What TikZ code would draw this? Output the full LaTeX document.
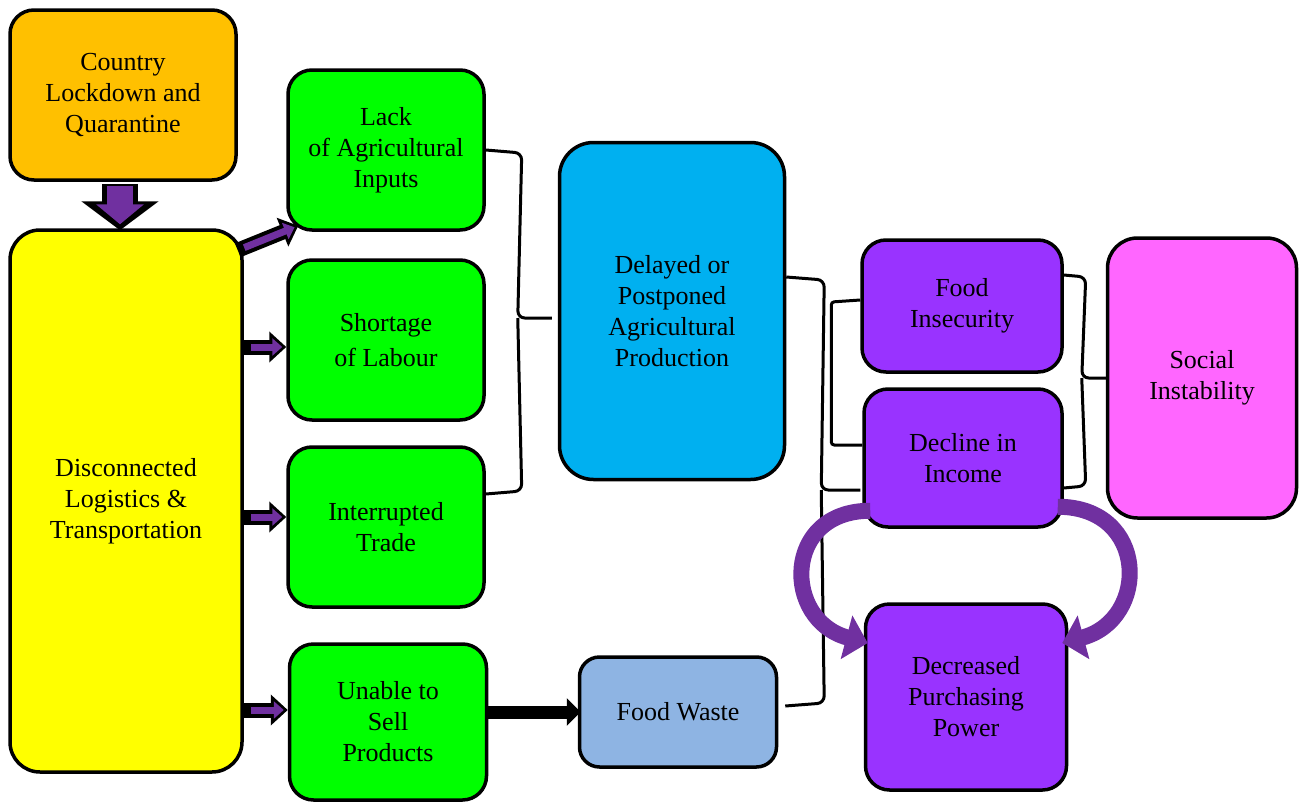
\documentclass[tikz,border=0pt]{standalone}
\usepackage{fontspec}
\setmainfont{Liberation Serif}
\usetikzlibrary{arrows.meta,calc}
\definecolor{lockorange}{HTML}{FFC000}
\definecolor{logyellow}{HTML}{FFFF00}
\definecolor{effgreen}{HTML}{00FF00}
\definecolor{prodblue}{HTML}{00B0F0}
\definecolor{wasteblue}{HTML}{8EB4E3}
\definecolor{incpurple}{HTML}{9933FF}
\definecolor{socpink}{HTML}{FF66FF}
\definecolor{arrpurple}{HTML}{7030A0}
\begin{document}
\begin{tikzpicture}[x=1pt,y=-1pt,
	box/.style={draw=black,line width=3.5pt,rounded corners=24pt,align=center,inner sep=0pt,font=\fontsize{26}{31}\selectfont},
	brc/.style={draw=black,line width=3pt,rounded corners=7pt},
	smallout/.style={draw=black,line width=15pt,-{Triangle[length=17pt,width=30pt]}},
	smallin/.style={draw=arrpurple,line width=7pt,-{Triangle[length=10pt,width=17pt]},shorten >=4pt,shorten <=7pt},
	curv/.style={draw=arrpurple,line width=16pt,-{Triangle[length=22pt,width=44pt]}}]
	\useasboundingbox (0,0) rectangle (1299,803);
	\node[box,fill=lockorange,minimum width=226pt,minimum height=170pt] (lock) at (123,95) {Country\\Lockdown and\\Quarantine};
	\node[box,fill=logyellow,minimum width=232pt,minimum height=542pt,rounded corners=30pt] (disc) at (126,501) {Disconnected\\Logistics \&\\Transportation};
	\node[box,fill=effgreen,minimum width=196pt,minimum height=160pt] (lack) at (386,150) {Lack\\of Agricultural\\Inputs};
	\node[box,fill=effgreen,minimum width=196pt,minimum height=160pt] (short) at (386,340) {Shortage\\[4pt]of Labour};
	\node[box,fill=effgreen,minimum width=196pt,minimum height=160pt] (trade) at (386,527) {Interrupted\\Trade};
	\node[box,fill=effgreen,minimum width=197pt,minimum height=156pt] (sell) at (388,722) {Unable to\\Sell\\Products};
	\node[box,fill=prodblue,minimum width=225pt,minimum height=337pt,rounded corners=34pt] (delay) at (672,311) {Delayed or\\Postponed\\Agricultural\\Production};
	\node[box,fill=wasteblue,minimum width=197pt,minimum height=110pt,rounded corners=20pt] (waste) at (678,712) {Food Waste};
	\node[box,fill=incpurple,minimum width=200pt,minimum height=132pt] (insec) at (962,306) {Food\\Insecurity};
	\node[box,fill=incpurple,minimum width=198pt,minimum height=138pt] (income) at (963,458) {Decline in\\Income};
	\node[box,fill=incpurple,minimum width=201pt,minimum height=186pt] (power) at (966,697) {Decreased\\Purchasing\\Power};
	\node[box,fill=socpink,minimum width=189pt,minimum height=280pt,rounded corners=30pt] (social) at (1202,378) {Social\\Instability};
	\draw[draw=black,line width=36pt,-{Triangle[length=29pt,width=76pt]}] ($(lock.south)+(-3,2)$) -- ($(disc.north)+(-6,2)$);
	\draw[draw=arrpurple,line width=26pt,-{Triangle[length=20pt,width=47pt]},shorten >=6pt] ($(lock.south)+(-3,4)$) -- ($(disc.north)+(-6,2)$);
	\draw[smallout] ($(disc.north east)+(-6,22)$) -- ($(lack.south west)+(12,-6)$);
	\draw[smallin] ($(disc.north east)+(-6,22)$) -- ($(lack.south west)+(12,-6)$);
	\draw[smallout] ($(disc.east|-short.west)+(0,7)$) -- ($(short.west)+(0,7)$);
	\draw[smallin] ($(disc.east|-short.west)+(0,7)$) -- ($(short.west)+(0,7)$);
	\draw[smallout] ($(disc.east|-trade.west)+(0,-10)$) -- ($(trade.west)+(0,-10)$);
	\draw[smallin] ($(disc.east|-trade.west)+(0,-10)$) -- ($(trade.west)+(0,-10)$);
	\draw[smallout] ($(disc.east|-sell.west)+(0,-12)$) -- ($(sell.west)+(0,-12)$);
	\draw[smallin] ($(disc.east|-sell.west)+(0,-12)$) -- ($(sell.west)+(0,-12)$);
	\draw[draw=black,line width=13pt,-{Triangle[length=14pt,width=27pt]}] ($(sell.east)+(0,-10)$) -- ($(waste.west|-sell.east)+(3,-10)$);
	\draw[brc] (lack.east) -- ++(36,3) -- ($(delay.west)+(-40,7)$) -- ($(delay.west)+(-6,7)$);
	\draw[brc] ($(trade.east)+(0,-33)$) -- ++(36,-3) -- ($(delay.west)+(-40,7)$);
	\draw[brc] ($(delay.east)+(0,-34)$) -- ++(38,3) -- ($(income.west)+(-41,32)$) -- ($(income.west)+(-2,32)$);
	\draw[brc] ($(waste.east)+(7,-6)$) -- ++(39,-3) -- ($(income.west)+(-41,32)$);
	\draw[brc,rounded corners=3pt] ($(insec.west)+(0,-6)$) -- ++(-29,2) |- ($(income.west)+(0,-13)$);
	\draw[brc] ($(insec.east)+(0,-31)$) -- ++(22,2) -- ($(social.west)+(-24,0)$) -- (social.west);
	\draw[brc] ($(income.east)+(0,30)$) -- ++(22,-2) -- ($(social.west)+(-24,0)$);
	\draw[curv] ($(income.south west)+(8,-18)$) to[out=180,in=165,looseness=1.7] ($(power.west)+(4,-54)$);
	\draw[curv] ($(income.south east)+(-6,-22)$) to[out=0,in=15,looseness=1.7] ($(power.east)+(-6,-54)$);
\end{tikzpicture}
\end{document}
